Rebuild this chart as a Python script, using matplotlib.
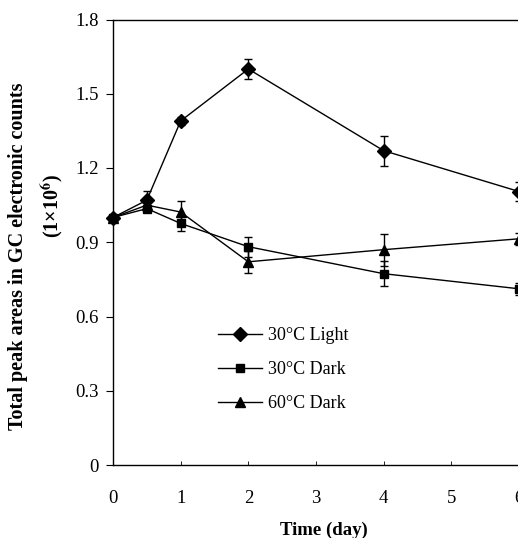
import matplotlib
matplotlib.use("Agg")
import matplotlib.pyplot as plt

plt.rcParams['font.family'] = ['Liberation Serif', 'DejaVu Serif']
plt.rcParams['mathtext.fontset'] = 'stix'

days = [0, 0.5, 1, 2, 4, 6]
light30 = [1.00, 1.07, 1.39, 1.60, 1.27, 1.105]
light30_err = [0.01, 0.037, 0.015, 0.04, 0.06, 0.04]
dark30 = [1.00, 1.036, 0.976, 0.882, 0.773, 0.712]
dark30_err = [0.01, 0.012, 0.032, 0.04, 0.05, 0.025]
dark60 = [1.00, 1.05, 1.022, 0.821, 0.870, 0.914]
dark60_err = [0.01, 0.012, 0.045, 0.045, 0.065, 0.025]

series_labels = ['30°C Light', '30°C Dark', '60°C Dark']
series_markers = ['D', 's', '^']
yticks = [0, 0.3, 0.6, 0.9, 1.2, 1.5, 1.8]
ytick_labels = ['0', '0.3', '0.6', '0.9', '1.2', '1.5', '1.8']
xticks = [0, 1, 2, 3, 4, 5, 6]
xtick_labels = ['0', '1', '2', '3', '4', '5', '6']
xlabel = 'Time (day)'
ylabel1 = 'Total peak areas in GC electronic counts'
ylabel2 = r'(1×10$^{\mathbf{6}}$)'

W, H = 518, 538
fig = plt.figure(figsize=(W / 100, H / 100), dpi=100)
ax = fig.add_axes([113 / W, (H - 465) / H, (519 - 113) / W, (465 - 19.5) / H])

values = [light30, dark30, dark60]
errors = [light30_err, dark30_err, dark60_err]
msizes = [7.0, 6.3, 7.5]
handles = []
for vals, errs, mk, lab, ms in zip(values, errors, series_markers, series_labels, msizes):
    ax.errorbar(days, vals, yerr=errs, fmt='none', ecolor='black', elinewidth=1.0,
                capsize=3.2, capthick=1.0, clip_on=False, zorder=2)
    h, = ax.plot(days, vals, color='black', lw=1.0, marker=mk, markersize=ms,
                 markerfacecolor='black', markeredgecolor='black', clip_on=False,
                 label=lab, zorder=3)
    handles.append(h)

ax.set_xlim(0, 6)
ax.set_ylim(0, 1.8)
ax.set_yticks(yticks)
ax.set_yticklabels(ytick_labels)
ax.set_xticks(xticks)
ax.set_xticklabels(xtick_labels)
ax.spines['right'].set_visible(False)
for s in ['left', 'top', 'bottom']:
    ax.spines[s].set_linewidth(1.0)
ax.tick_params(axis='y', direction='out', length=5, width=0.8, pad=5.5, labelsize=13.5)
ax.tick_params(axis='x', direction='in', length=3, width=0.6, pad=18, labelsize=13.5)

ax.set_xlabel(xlabel, fontsize=13.5, fontweight='bold')
ax.xaxis.set_label_coords((324 - 113) / (519 - 113), -(530 - 465) / (465 - 19.5))
ax.xaxis.label.set_va('center')

fig.text(18 / W, 1 - 256 / H, ylabel1, rotation=90, ha='center', va='center',
         fontsize=14.5, fontweight='bold')
fig.text(53 / W, 1 - 206 / H, ylabel2, rotation=90, ha='center', va='center',
         fontsize=14.5, fontweight='bold')

leg = ax.legend(handles=handles, loc='upper left',
                bbox_to_anchor=((218 - 113) / (519 - 113), 1 - (327 - 19.5) / (465 - 19.5)),
                frameon=False, fontsize=13, handlelength=2.45, handletextpad=0.3,
                labelspacing=0.95, borderaxespad=0, borderpad=0)

fig.savefig('out.png', dpi=100)
